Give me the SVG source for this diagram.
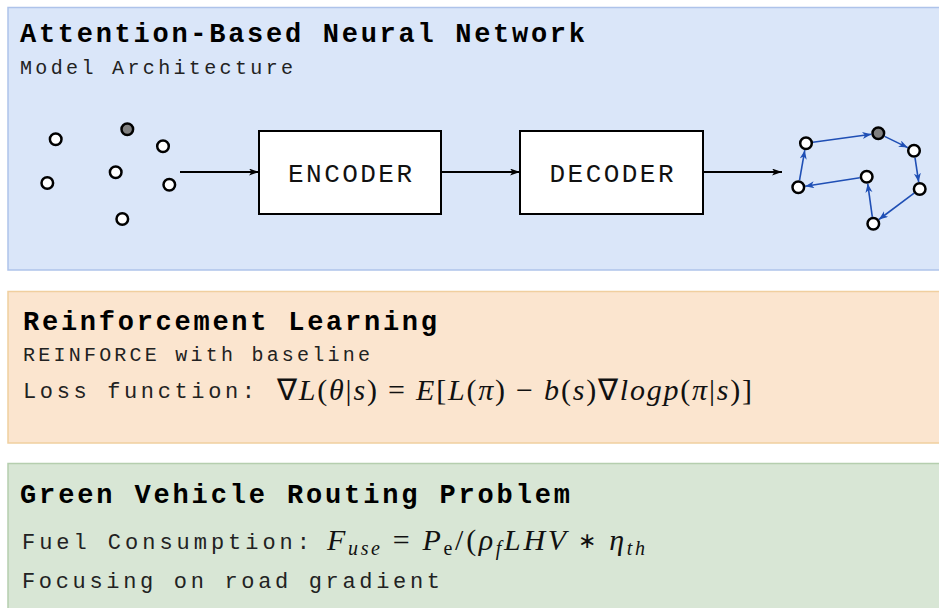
<svg xmlns="http://www.w3.org/2000/svg" width="939" height="608" viewBox="0 0 939 608">
  <style>
    .panel-blue { fill: #dae6f9; stroke: #aec3ea; stroke-width: 1.5; }
    .panel-orange { fill: #fbe5cf; stroke: #f0cf9f; stroke-width: 1.5; }
    .panel-green { fill: #d8e6d5; stroke: #b5ceae; stroke-width: 1.5; }
    .title { font-family: "Liberation Mono", "Courier New", monospace; font-weight: bold; font-size: 27px; fill: #000; }
    .sub { font-family: "Liberation Mono", "Courier New", monospace; font-size: 20px; fill: #222; }
    .line { font-family: "Liberation Mono", "Courier New", monospace; font-size: 22px; fill: #222; }
    .box { fill: #fff; stroke: #000; stroke-width: 2; }
    .boxlabel { font-family: "Liberation Mono", "Courier New", monospace; font-size: 26px; fill: #111; text-anchor: middle; }
    .pt { fill: #fff; stroke: #000; stroke-width: 2.5; }
    .pt-depot { fill: #808080; stroke: #000; stroke-width: 2.5; }
    .flow { stroke: #000; stroke-width: 2; fill: none; marker-end: url(#arrowBlack); }
    .route { stroke: #1f4fb5; stroke-width: 1.6; fill: none; marker-end: url(#arrowBlue); }
    .math { font-family: "Liberation Serif", "Times New Roman", serif; font-size: 30px; fill: #111; }
    .it { font-style: italic; }
  </style>
  <defs>
    <marker id="arrowBlack" markerUnits="userSpaceOnUse" markerWidth="11" markerHeight="8" refX="10" refY="3.5" orient="auto">
      <path d="M0,0 L10,3.5 L0,7 L2.5,3.5 z" fill="#000"/>
    </marker>
    <marker id="arrowBlue" markerUnits="userSpaceOnUse" markerWidth="10" markerHeight="8" refX="9" refY="3.5" orient="auto">
      <path d="M0,0 L9,3.5 L0,7 L2.5,3.5 z" fill="#1f4fb5"/>
    </marker>
  </defs>

  <rect width="939" height="608" fill="#fff"/>

  <!-- Attention-based model panel -->
  <g id="panel-model">
    <rect class="panel-blue" x="8" y="7.5" width="940" height="262.5"/>
    <text class="title" x="20" y="42" textLength="565" lengthAdjust="spacing">Attention-Based Neural Network</text>
    <text class="sub" x="20" y="74" textLength="273" lengthAdjust="spacing">Model Architecture</text>
  </g>

  <!-- Unordered input points -->
  <g id="input-points">
    <circle class="pt" cx="55.7" cy="139.3" r="5.8"/>
    <circle class="pt-depot" cx="127.3" cy="129.3" r="5.8"/>
    <circle class="pt" cx="163" cy="146.3" r="5.8"/>
    <circle class="pt" cx="47.3" cy="183" r="5.8"/>
    <circle class="pt" cx="115.7" cy="172.3" r="5.8"/>
    <circle class="pt" cx="169.3" cy="184.7" r="5.8"/>
    <circle class="pt" cx="122.3" cy="219" r="5.8"/>
  </g>

  <g id="encoder">
    <rect class="box" x="259" y="131" width="182" height="83"/>
    <text class="boxlabel" x="350" y="182" textLength="124" lengthAdjust="spacing">ENCODER</text>
  </g>

  <g id="decoder">
    <rect class="box" x="520" y="131" width="183" height="83"/>
    <text class="boxlabel" x="611.5" y="182" textLength="124" lengthAdjust="spacing">DECODER</text>
  </g>

  <!-- Connectors -->
  <g id="connectors">
    <line class="flow" x1="180" y1="172" x2="259" y2="172"/>
    <line class="flow" x1="441" y1="172" x2="520" y2="172"/>
    <line class="flow" x1="703" y1="172" x2="782" y2="172"/>
    <line class="route" x1="812.9" y1="142.3" x2="871.4" y2="134.3"/>
    <line class="route" x1="884.6" y1="136.4" x2="907.7" y2="147.6"/>
    <line class="route" x1="915" y1="157.6" x2="918.7" y2="182.1"/>
    <line class="route" x1="914.1" y1="193.2" x2="878.9" y2="219.5"/>
    <line class="route" x1="872.3" y1="216.8" x2="867.7" y2="183.6"/>
    <line class="route" x1="859.8" y1="177.8" x2="805.2" y2="186.2"/>
    <line class="route" x1="799.5" y1="180.4" x2="804.8" y2="150.2"/>
  </g>

  <!-- Ordered tour -->
  <g id="tour-points">
    <circle class="pt" cx="806" cy="143.3" r="5.8"/>
    <circle class="pt-depot" cx="878.3" cy="133.3" r="5.8"/>
    <circle class="pt" cx="914" cy="150.7" r="5.8"/>
    <circle class="pt" cx="919.7" cy="189" r="5.8"/>
    <circle class="pt" cx="873.3" cy="223.7" r="5.8"/>
    <circle class="pt" cx="866.7" cy="176.7" r="5.8"/>
    <circle class="pt" cx="798.3" cy="187.3" r="5.8"/>
  </g>

  <!-- Reinforcement learning panel -->
  <g id="panel-rl">
    <rect class="panel-orange" x="8" y="291.5" width="940" height="151.5"/>
    <text class="title" x="23" y="330" textLength="414" lengthAdjust="spacing">Reinforcement Learning</text>
    <text class="sub" x="23" y="361" textLength="347" lengthAdjust="spacing">REINFORCE with baseline</text>
    <text class="line" x="23" y="398" textLength="232" lengthAdjust="spacing">Loss function:</text>
    <text class="math" x="277" y="400" textLength="475" lengthAdjust="spacing">∇<tspan class="it">L</tspan>(<tspan class="it">θ</tspan>|<tspan class="it">s</tspan>) = <tspan class="it">E</tspan>[<tspan class="it">L</tspan>(<tspan class="it">π</tspan>) − <tspan class="it">b</tspan>(<tspan class="it">s</tspan>)∇<tspan class="it">logp</tspan>(<tspan class="it">π</tspan>|<tspan class="it">s</tspan>)]</text>
  </g>

  <!-- Green VRP panel -->
  <g id="panel-gvrp">
    <rect class="panel-green" x="8" y="463.5" width="940" height="150"/>
    <text class="title" x="20" y="503" textLength="550" lengthAdjust="spacing">Green Vehicle Routing Problem</text>
    <text class="line" x="22" y="549" textLength="288" lengthAdjust="spacing">Fuel Consumption:</text>
    <text class="math" x="327" y="550" textLength="318" lengthAdjust="spacing"><tspan class="it">F</tspan><tspan class="it" font-size="20" dy="5">use</tspan><tspan dy="-5"> = </tspan><tspan class="it">P</tspan><tspan font-size="20" dy="5">e</tspan><tspan dy="-5">/(</tspan><tspan class="it">ρ</tspan><tspan class="it" font-size="20" dy="5">f</tspan><tspan class="it" dy="-5">LHV </tspan><tspan font-size="22" dy="-2">∗</tspan><tspan dy="2"> </tspan><tspan class="it">η</tspan><tspan class="it" font-size="20" dy="5">th</tspan></text>
    <text class="line" x="22" y="588" textLength="418" lengthAdjust="spacing">Focusing on road gradient</text>
  </g>
</svg>
